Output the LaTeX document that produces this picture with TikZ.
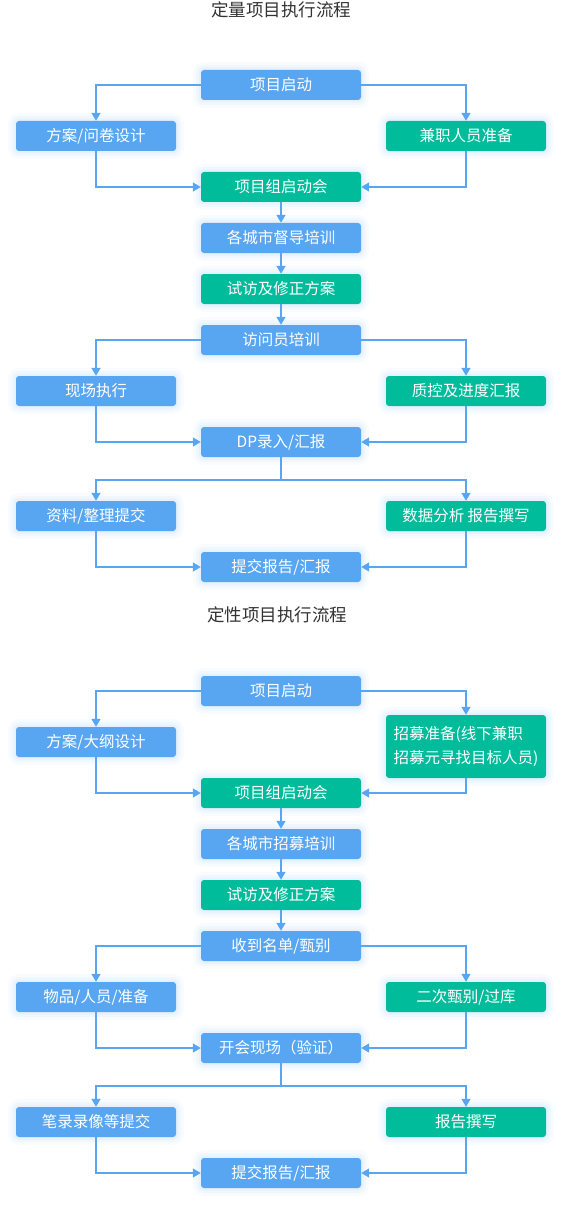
\documentclass[tikz,border=0pt]{standalone}
\usepackage{fontspec}
\setmainfont{Noto Sans CJK SC}
\usetikzlibrary{arrows.meta}
\definecolor{bl}{HTML}{58A6F2}
\definecolor{gr}{HTML}{00BC9B}
\definecolor{lc}{HTML}{58A6F2}
\definecolor{tt}{HTML}{333333}
\tikzset{
 glow/.style={preaction={draw=bl,opacity=0.04,line width=16pt},
              preaction={draw=bl,opacity=0.05,line width=10pt},
              preaction={draw=bl,opacity=0.07,line width=5pt}},
 box/.style={rounded corners=3pt, minimum width=160pt, minimum height=30pt, text=white,
             font=\fontsize{15.5}{24}\selectfont, inner sep=0pt, glow},
 bbox/.style={box, fill=bl},
 gbox/.style={box, fill=gr},
 conn/.style={draw=lc, line width=1.4pt},
 arr/.style={conn, -{Triangle[length=8pt,width=9pt]}},
 ttl/.style={text=tt, font=\fontsize{17.5}{20}\selectfont}
}
\begin{document}
\begin{tikzpicture}[x=1pt,y=-1pt]
\useasboundingbox (0,0) rectangle (567,1206);
% ---------- part 1 ----------
\node[ttl] (t1) at (281,10) {定量项目执行流程};
\node[bbox] (a1) at (281,85) {项目启动};
\node[bbox] (a2) at (96,136) {方案/问卷设计};
\node[gbox] (a3) at (466,136) {兼职人员准备};
\node[gbox] (a4) at (281,187) {项目组启动会};
\node[bbox] (a5) at (281,238) {各城市督导培训};
\node[gbox] (a6) at (281,289) {试访及修正方案};
\node[bbox] (a7) at (281,340) {访问员培训};
\node[bbox] (a8) at (96,391) {现场执行};
\node[gbox] (a9) at (466,391) {质控及进度汇报};
\node[bbox] (a10) at (281,442) {DP录入/汇报};
\node[bbox] (a11) at (96,516) {资料/整理提交};
\node[gbox] (a12) at (466,516) {数据分析 报告撰写};
\node[bbox] (a13) at (281,567) {提交报告/汇报};
\coordinate (j1) at (281,480);
\draw[arr] (a1.west) -| (a2.north);
\draw[arr] (a1.east) -| (a3.north);
\draw[arr] (a2.south) |- (a4.west);
\draw[arr] (a3.south) |- (a4.east);
\draw[arr] (a4) -- (a5);
\draw[arr] (a5) -- (a6);
\draw[arr] (a6) -- (a7);
\draw[arr] (a7.west) -| (a8.north);
\draw[arr] (a7.east) -| (a9.north);
\draw[arr] (a8.south) |- (a10.west);
\draw[arr] (a9.south) |- (a10.east);
\draw[conn] (a10.south) -- (j1);
\draw[arr] (j1) -| (a11.north);
\draw[arr] (j1) -| (a12.north);
\draw[arr] (a11.south) |- (a13.west);
\draw[arr] (a12.south) |- (a13.east);
% ---------- part 2 ----------
\node[ttl] (t2) at (277,615) {定性项目执行流程};
\node[bbox] (b1) at (281,691) {项目启动};
\node[bbox] (b2) at (96,742) {方案/大纲设计};
\node[gbox, minimum height=63pt, align=left] (b3) at (466,746.5) {招募准备(线下兼职\\招募元寻找目标人员)};
\node[gbox] (b4) at (281,793) {项目组启动会};
\node[bbox] (b5) at (281,844) {各城市招募培训};
\node[gbox] (b6) at (281,895) {试访及修正方案};
\node[bbox] (b7) at (281,946) {收到名单/甄别};
\node[bbox] (b8) at (96,997) {物品/人员/准备};
\node[gbox] (b9) at (466,997) {二次甄别/过库};
\node[bbox] (b10) at (281,1048) {开会现场（验证）};
\node[bbox] (b11) at (96,1122) {笔录录像等提交};
\node[gbox] (b12) at (466,1122) {报告撰写};
\node[bbox] (b13) at (281,1173) {提交报告/汇报};
\coordinate (j2) at (281,1086);
\draw[arr] (b1.west) -| (b2.north);
\draw[arr] (b1.east) -| (b3.north);
\draw[arr] (b2.south) |- (b4.west);
\draw[arr] (b3.south) |- (b4.east);
\draw[arr] (b4) -- (b5);
\draw[arr] (b5) -- (b6);
\draw[arr] (b6) -- (b7);
\draw[arr] (b7.west) -| (b8.north);
\draw[arr] (b7.east) -| (b9.north);
\draw[arr] (b8.south) |- (b10.west);
\draw[arr] (b9.south) |- (b10.east);
\draw[conn] (b10.south) -- (j2);
\draw[arr] (j2) -| (b11.north);
\draw[arr] (j2) -| (b12.north);
\draw[arr] (b11.south) |- (b13.west);
\draw[arr] (b12.south) |- (b13.east);
\end{tikzpicture}
\end{document}
